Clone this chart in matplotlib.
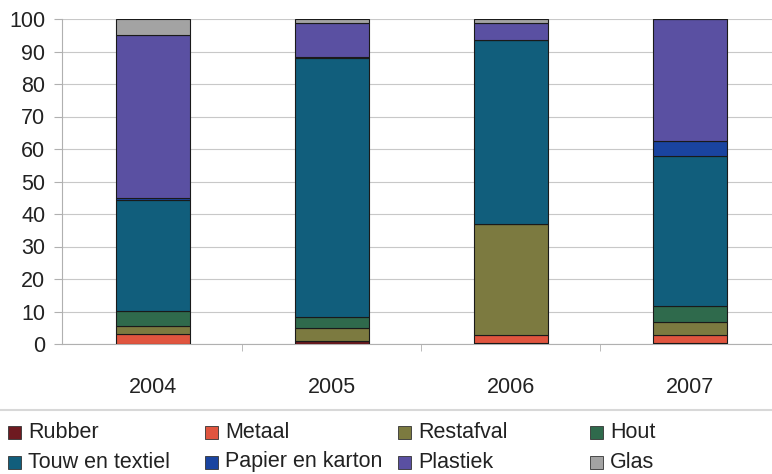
import numpy as np
import matplotlib.pyplot as plt
from matplotlib.patches import Rectangle
from matplotlib.lines import Line2D

plt.rcParams['font.family'] = ['Liberation Sans', 'DejaVu Sans']

years = ['2004', '2005', '2006', '2007']
categories = ['Rubber', 'Metaal', 'Restafval', 'Hout',
              'Touw en textiel', 'Papier en karton', 'Plastiek', 'Glas']

rubber = [0.0, 0.8, 0.2, 0.3]
metaal = [3.0, 0.2, 2.5, 2.4]
restafval = [2.5, 3.8, 34.2, 4.1]
hout = [4.7, 3.6, 0.0, 4.8]
touw = [34.0, 79.5, 56.5, 46.1]
papier = [0.8, 0.5, 0.0, 4.7]
plastiek = [50.0, 10.5, 5.5, 37.6]
glas = [5.0, 1.1, 1.1, 0.0]

series = [rubber, metaal, restafval, hout, touw, papier, plastiek, glas]
colors = ['#6e1a20', '#e0553f', '#7c7a40', '#2f6a4c',
          '#115e7c', '#1a44a0', '#5a50a2', '#a3a3a3']

fig = plt.figure(figsize=(7.72, 4.74), dpi=100)
ax = fig.add_axes([62 / 772, 1 - 344 / 474, 710 / 772, (344 - 19) / 474])

x = np.arange(len(years))
bottom = np.zeros(len(years))
for vals, col in zip(series, colors):
    ax.bar(x, vals, width=0.41, bottom=bottom, color=col,
           edgecolor='#1a1a1a', linewidth=0.8, zorder=3)
    bottom += np.array(vals)

ax.set_xlim(-0.508, 3.458)
ax.set_ylim(0, 100)
ax.set_yticks(np.arange(0, 101, 10))
ax.set_xticks(x)
ax.set_xticklabels(years)
ax.set_xticks([0.5, 1.5, 2.5], minor=True)
ax.grid(axis='y', color='#c8c8c8', linewidth=0.8, zorder=0)

for side in ['top', 'right']:
    ax.spines[side].set_visible(False)
ax.spines['left'].set_color('#b0b0b0')
ax.spines['bottom'].set_color('#b0b0b0')

ax.tick_params(axis='y', labelsize=15.5, length=6, color='#b0b0b0', pad=6,
               labelcolor='#222222')
ax.tick_params(axis='x', which='major', labelsize=15.5, length=0, pad=24,
               labelcolor='#222222')
ax.tick_params(axis='x', which='minor', length=5, color='#b0b0b0')

# separator line above the legend
fig.add_artist(Line2D([0, 1], [1 - 410 / 474, 1 - 410 / 474],
                      color='#d8d8d8', linewidth=1.5))

# legend laid out in two rows, four columns
col_x = [8, 205, 398, 590]
row_y = [432, 462]
for i, (name, col) in enumerate(zip(categories, colors)):
    r, c = divmod(i, 4)
    px, py = col_x[c], row_y[r]
    fig.add_artist(Rectangle((px / 772, 1 - (py + 6.5) / 474), 13 / 772, 13 / 474,
                             facecolor=col, edgecolor='#333333', linewidth=0.6,
                             transform=fig.transFigure))
    fig.text((px + 20) / 772, 1 - py / 474, name, fontsize=15.5,
             color='#222222', va='center', ha='left')

fig.savefig('out.png', dpi=100)
